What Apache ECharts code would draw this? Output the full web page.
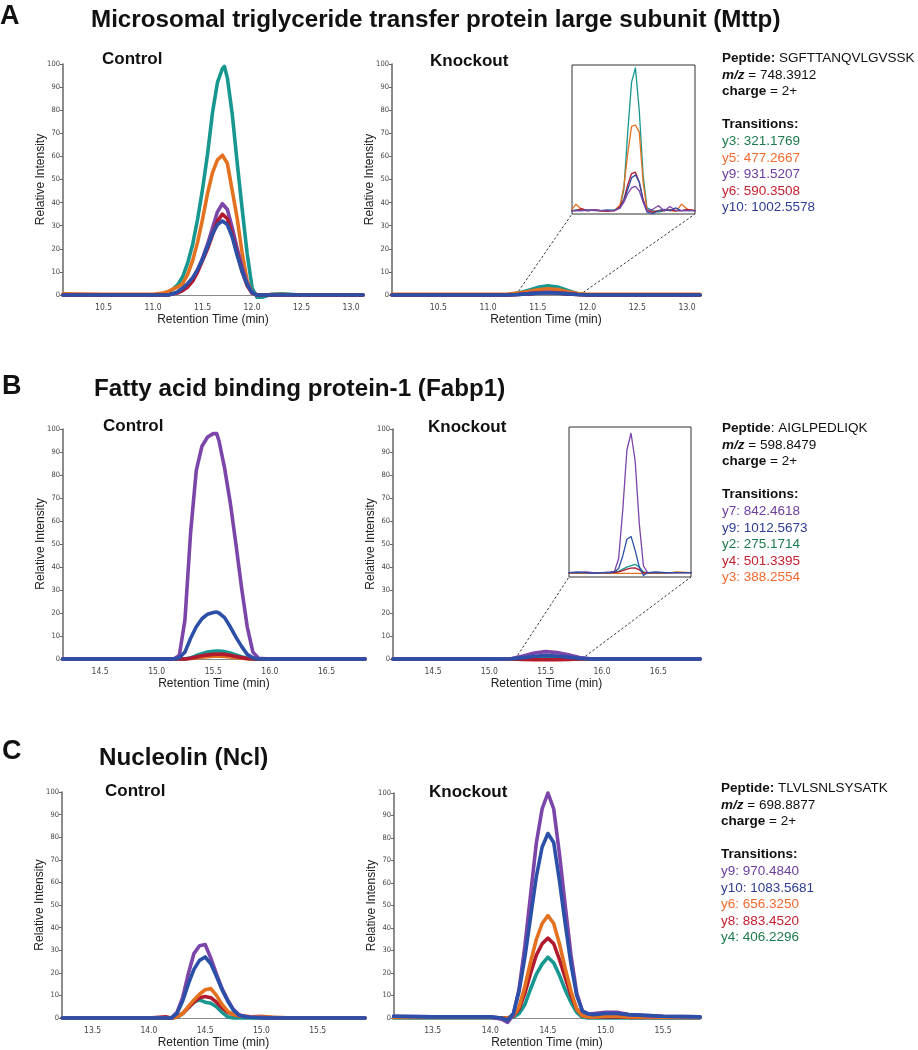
<!DOCTYPE html>
<html><head><meta charset="utf-8">
<script src="https://cdn.jsdelivr.net/npm/echarts@6/dist/echarts.min.js"></script>
<style>html,body{margin:0;padding:0;background:#fff}#c{width:918px;height:1050px}</style>
</head><body><div id="c"></div>
<script>
// ---------- Panel A (Mttp) ----------
const tA_c = [10.09,10.5,11.0,11.1,11.15,11.2,11.25,11.3,11.35,11.4,11.45,11.5,11.55,11.6,11.65,11.7,11.72,11.75,11.8,11.85,11.9,11.95,12.0,12.05,12.1,12.2,12.3,12.5,13.12];
const A_c_y3  = [0,0,0,0.3,1,2.5,4.5,8,14,22,33,46,61,79,92,98,99,94,78,57,37,18,3,-1,-1,0.3,0.5,0,0];
const A_c_y5  = [0.5,0.3,0.3,0.8,1.5,2.5,3.5,5,9,15,23,33,44,53,58.5,60.5,60,57,45,33,18,6,1,0,0,0.2,0.2,0,0];
const A_c_y9  = [0,0,0,0,0,0.5,1,2,4,7,11,16,22,29,36,39.5,40,37,29,20,12,5,1,0,0,0,0,0,0];
const A_c_y6  = [0,0,0,0,0,0.5,1,2,3.5,6,10,15,20,26,32,35,35,33,26,18,10,4,0.8,0,0,0,0,0,0];
const A_c_y10 = [0,0,0,0,0,0.5,1.5,3,5,7.5,11,15.5,21,26.5,30.5,32,32,30.5,25,17,10,4.5,1,0,0,0,0,0,0];

const tA_k = [10.035,10.5,11.0,11.2,11.3,11.4,11.5,11.6,11.7,11.8,11.9,12.0,12.5,13.0,13.13];
const A_k_y3  = [0,0,0,0.2,0.8,2,3.3,4,3.5,2,0.6,0,0,0,0];
const A_k_y5  = [0.3,0.3,0.3,0.4,0.8,1.5,2.3,2.7,2.4,1.4,0.6,0.3,0.3,0.3,0.3];
const A_k_y9  = [0,0,0,0,0.2,0.6,1,1.2,1,0.6,0.2,0,0,0,0];
const A_k_y6  = [0,0,0,0,0.2,0.5,0.9,1.1,0.9,0.5,0.2,0,0,0,0];
const A_k_y10 = [0,0,0,0,0.2,0.5,0.8,1,0.8,0.5,0.2,0,0,0,0];

// inset (zoomed knockout, relative units)
const tA_i = [11.28,11.30,11.33,11.36,11.40,11.43,11.46,11.50,11.53,11.55,11.57,11.59,11.61,11.63,11.65,11.67,11.70,11.73,11.76,11.79,11.82,11.85,11.88,11.92];
const A_i_y3  = [0,0.5,1,0,0.5,0,0,0.5,2,15,55,90,100,70,25,2,0,-1,0,0.5,0,0,0.5,0];
const A_i_y5  = [1,4.5,1,0,0.5,-0.5,0,0,4,17,40,59,60,55,20,1,-1,0,0.5,0,-0.5,4.5,1,0];
const A_i_y9  = [0,0,0,0,0.5,0,0,0,2,6,12,16,17,14,6,0,1,3.5,0,3,0,0,0,0];
const A_i_y6  = [0,0,1.5,0,0.5,0,-0.5,0,3,8,18,26,27,20,8,0,-1,0,0,0.5,0,0,1,0];
const A_i_y10 = [0,0,0,0.5,0,0,0.5,0,2,7,15,23,25,20,7,-1,-2,0,1,0,2,0,0,0];

// ---------- Panel B (Fabp1) ----------
const tB_c = [14.17,14.5,15.0,15.1,15.15,15.2,15.25,15.3,15.35,15.4,15.45,15.5,15.53,15.55,15.6,15.65,15.7,15.75,15.8,15.85,15.9,16.0,16.3,16.6,16.84];
const B_c_y7 = [0,0,0,0,0,1.5,17,55,82,92.5,96.5,98,98,95,83,68,50,31,14,3,0.3,0,0,0,0];
const B_c_y9 = [0,0,0,0,0,0.5,3,9,14,17.5,19.5,20.2,20.4,20,18,14,9.5,5.5,2,0.5,0,0,0,0,0];
const B_c_y2 = [0,0,0,0,0,0,0,0.5,1.5,2.3,3,3.4,3.5,3.5,3.2,2.6,1.8,1,0.3,0,0,0,0,0,0];
const B_c_y4 = [0,0,0,0,0,0,0,0.3,0.9,1.4,1.8,2,2.1,2.1,2,1.6,1.1,0.6,0.2,0,0,0,0,0,0];
const B_c_y3 = [0,0,0,0,0,0,0,0.2,0.5,0.8,1,1.2,1.2,1.2,1.1,0.9,0.6,0.3,0.1,0,0,0,0,0,0];

const tB_k = [14.145,14.5,15.0,15.2,15.3,15.4,15.5,15.6,15.7,15.8,15.9,16.0,16.5,16.87];
const B_k_y7 = [0,0,0,0.2,1.3,2.6,3.2,2.8,1.8,0.6,0.1,0,0,0];
const B_k_y9 = [0,0,0,0.1,0.6,1.2,1.5,1.3,0.8,0.3,0,0,0,0];
const B_k_y2 = [0,0,0,0,0.1,0.2,0.3,0.2,0.1,0,0,0,0,0];
const B_k_y4 = [0,0,0,0,-0.2,-0.3,-0.3,-0.3,-0.2,0,0,0,0,0];
const B_k_y3 = [0,0,0,0,0,0,0,0,0,0,0,0,0,0];

const tB_i = [15.23,15.27,15.31,15.35,15.39,15.43,15.45,15.47,15.49,15.51,15.53,15.55,15.57,15.59,15.61,15.65,15.70,15.75,15.82];
const B_i_y7 = [0,0,0.5,0,0,0.5,1,10,45,88,100,80,35,5,0,0,0,0,0];
const B_i_y9 = [0,0.5,0,-0.5,0,0,0.5,3,12,24,26,16,4,-2,0,0.5,0,0,0];
const B_i_y2 = [0,0,0,0,0,0,0.5,1,2.5,4,5,6,4,0.5,0,0,0,0,0];
const B_i_y4 = [0,0,0,0,0,0,0,0.5,1.5,2.5,3.3,3.5,2,0,0,0,0,0,0];
const B_i_y3 = [-0.5,-0.5,-0.5,-0.5,-0.5,-0.5,-0.5,-0.5,-0.5,-0.5,-0.5,-0.5,-0.5,-0.5,-0.5,-0.5,-0.5,0.5,0];

// ---------- Panel C (Ncl) ----------
const tC_c = [13.23,13.5,14.0,14.15,14.2,14.25,14.3,14.35,14.4,14.45,14.5,14.55,14.6,14.65,14.7,14.75,14.8,14.85,14.9,15.0,15.1,15.3,15.6,15.92];
const C_c_y9  = [0,0,0,0,0,2.5,9,19.5,28.5,32,32.5,26.5,19.5,13,8,3.8,1.4,0.7,0.3,0.3,0,0,0,0];
const C_c_y10 = [0,0,0,0,0,2,7.5,15,21.5,25.5,27,24,18.5,12.5,7.5,3.5,1.3,0.6,0.3,0,0,0,0,0];
const C_c_y6  = [0,0,0,0,0,0.5,2,5,8,10.5,12.5,13,10,6,3,1.5,1,0.8,0.5,0.8,0.3,0,0,0];
const C_c_y8  = [0,0,0,0.5,0,0.5,2,4.5,7,9,9.5,9,7,4.5,2.5,1.5,1,0.8,0.5,0.4,0.2,0,0,0];
const C_c_y4  = [0,0,0,0,0,0.3,2,4.5,7,8,7,6.5,5,2.5,0.5,0,0,0,0,0,0,0,0,0];

const tC_k = [13.16,13.5,14.0,14.1,14.15,14.2,14.25,14.3,14.35,14.4,14.45,14.5,14.55,14.6,14.65,14.7,14.75,14.8,14.85,14.9,15.0,15.1,15.2,15.5,15.82];
const C_k_y9  = [0.8,0.5,0.5,-0.5,-2,1.5,13,32,55,78,93,100,93,73,50,28,11,3,1.8,2,2.5,2.5,1.5,0.8,0.5];
const C_k_y10 = [0.8,0.5,0.5,0,-1,2,12,27,45,63,76,82,78,61,42,24,10,3,1.8,1.5,2,2,1.5,0.8,0.5];
const C_k_y6  = [0.3,0.3,0.3,0,0,1,5,14,25,35,42,45.5,42,33,22,12,4,1,0.5,0.5,0.8,0.8,0.5,0.3,0.3];
const C_k_y8  = [0.3,0.5,0.3,0,0,0.8,4,11,20,28,33,35.5,33,26,18,10,4,1,0.5,0.5,0.5,0.5,0.3,0.3,0.3];
const C_k_y4  = [0,0,0,0,0,0.3,2,6,13,19.5,24,27,24.5,19,12.5,7,2.5,0.3,0,0,0,0,0,0,0];

// ---------- tick labels ----------
const ticksA = [10.5,11.0,11.5,12.0,12.5,13.0];
const ticksB = [14.5,15.0,15.5,16.0,16.5];
const ticksC = [13.5,14.0,14.5,15.0,15.5];

// ---------- styles ----------
const COL = {teal:'#17978f', orange:'#e3711f', purple:'#7b45a9', red:'#b1192e', blue:'#2c4fa7'};
const TXT = {green:'#1d7a4c', orange:'#f26a2f', purple:'#6c3c9e', red:'#c4202f', blue:'#2e3d96'};
const FONT = 'Liberation Sans, Arial, Helvetica, sans-serif';
const NARROW = 'Liberation Sans Narrow, DejaVu Sans Condensed, Arial Narrow, sans-serif';

const grids = [
  {left:63,  top:64,  width:300, height:231},
  {left:392, top:64,  width:308, height:231},
  {left:63,  top:429, width:302, height:230},
  {left:393, top:429, width:307, height:230},
  {left:62,  top:792, width:303, height:230},
  {left:394, top:793, width:306, height:228},
  {left:572, top:65,  width:123, height:149, show:true, borderColor:'#333', borderWidth:1, backgroundColor:'#fff', z:5},
  {left:569, top:427, width:122, height:150, show:true, borderColor:'#333', borderWidth:1, backgroundColor:'#fff', z:5}
];
const xr = [[10.09,13.12,ticksA],[10.035,13.13,ticksA],[14.173,16.84,ticksB],[14.145,16.87,ticksB],[13.228,15.92,ticksC],[13.164,15.82,ticksC]];

const xAxes = xr.map((r,i)=>({
  gridIndex:i, type:'value', min:r[0], max:r[1],
  axisLine:{show:true, lineStyle:{color:'#8a8a8a', width:1.2}},
  axisTick:{show:false}, splitLine:{show:false},
  axisLabel:{customValues:r[2], formatter:v=>v.toFixed(1), fontSize:8.5, color:'#444', margin:8, fontFamily:NARROW},
  name:'Retention Time (min)', nameLocation:'middle', nameGap:19,
  nameTextStyle:{fontSize:12, color:'#222', fontFamily:FONT}
}));
xAxes.push({gridIndex:6, type:'value', min:11.28, max:11.92, show:false});
xAxes.push({gridIndex:7, type:'value', min:15.23, max:15.82, show:false});

const yAxes = xr.map((r,i)=>({
  gridIndex:i, type:'value', min:0, max:100, interval:10,
  axisLine:{show:true, lineStyle:{color:'#666', width:1.5}},
  axisTick:{show:true, length:3, lineStyle:{color:'#666'}},
  splitLine:{show:false},
  axisLabel:{fontSize:7.5, color:'#444', margin:3, fontFamily:NARROW},
  name:'Relative Intensity', nameLocation:'middle', nameGap:16, nameMoveOverlap:false,
  nameTextStyle:{fontSize:12, color:'#222', fontFamily:FONT}
}));
yAxes.push({gridIndex:6, type:'value', min:-2.3, max:102, show:false});
yAxes.push({gridIndex:7, type:'value', min:-3.1, max:104.5, show:false});

function mk(t, v, color, gi, width, z){
  return {type:'line', xAxisIndex:gi, yAxisIndex:gi, data:t.map((x,i)=>[x,v[i]]),
    symbol:'none', showSymbol:false, clip:false, silent:true, z:z||2,
    lineStyle:{color:color, width:width, join:'round', cap:'round'}, itemStyle:{color:color}};
}
const W = 3.6, WI = 1.3;
const series = [
  // A
  mk(tA_c,A_c_y3,COL.teal,0,W), mk(tA_c,A_c_y5,COL.orange,0,W), mk(tA_c,A_c_y9,COL.purple,0,W), mk(tA_c,A_c_y6,COL.red,0,W), mk(tA_c,A_c_y10,COL.blue,0,W),
  mk(tA_k,A_k_y3,COL.teal,1,W), mk(tA_k,A_k_y5,COL.orange,1,W), mk(tA_k,A_k_y9,COL.purple,1,W), mk(tA_k,A_k_y6,COL.red,1,W), mk(tA_k,A_k_y10,COL.blue,1,W),
  mk(tA_i,A_i_y3,COL.teal,6,WI,6), mk(tA_i,A_i_y5,COL.orange,6,WI,6), mk(tA_i,A_i_y6,COL.red,6,WI,6), mk(tA_i,A_i_y10,COL.blue,6,WI,6), mk(tA_i,A_i_y9,COL.purple,6,WI,6),
  // B
  mk(tB_c,B_c_y3,COL.orange,2,W), mk(tB_c,B_c_y2,COL.teal,2,W), mk(tB_c,B_c_y4,COL.red,2,W), mk(tB_c,B_c_y7,COL.purple,2,W), mk(tB_c,B_c_y9,COL.blue,2,W),
  mk(tB_k,B_k_y3,COL.orange,3,W), mk(tB_k,B_k_y2,COL.teal,3,W), mk(tB_k,B_k_y4,COL.red,3,W), mk(tB_k,B_k_y7,COL.purple,3,W), mk(tB_k,B_k_y9,COL.blue,3,W),
  mk(tB_i,B_i_y3,COL.orange,7,WI,6), mk(tB_i,B_i_y2,COL.teal,7,WI,6), mk(tB_i,B_i_y4,COL.red,7,WI,6), mk(tB_i,B_i_y7,COL.purple,7,WI,6), mk(tB_i,B_i_y9,COL.blue,7,WI,6),
  // C
  mk(tC_c,C_c_y4,COL.teal,4,W), mk(tC_c,C_c_y8,COL.red,4,W), mk(tC_c,C_c_y6,COL.orange,4,W), mk(tC_c,C_c_y9,COL.purple,4,W), mk(tC_c,C_c_y10,COL.blue,4,W),
  mk(tC_k,C_k_y4,COL.teal,5,W), mk(tC_k,C_k_y8,COL.red,5,W), mk(tC_k,C_k_y6,COL.orange,5,W), mk(tC_k,C_k_y9,COL.purple,5,W), mk(tC_k,C_k_y10,COL.blue,5,W)
];

function txt(x,y,text,size,weight){
  return {type:'text', x:x, y:y, z:10, silent:true,
    style:{text:text, fill:'#111', font:(weight||'bold')+' '+size+'px '+FONT, align:'left', verticalAlign:'middle'}};
}
const LH = 16.6, FS = 13.5;
const rich = {
  b:{fontWeight:'bold', fontSize:FS, fontFamily:FONT, lineHeight:LH, fill:'#111', color:'#111'},
  bi:{fontWeight:'bold', fontStyle:'italic', fontSize:FS, fontFamily:FONT, lineHeight:LH, fill:'#111', color:'#111'},
  n:{fontSize:FS, fontFamily:FONT, lineHeight:LH, fill:'#111', color:'#111'},
  g:{fontSize:FS, fontFamily:FONT, lineHeight:LH, fill:TXT.green, color:TXT.green},
  o:{fontSize:FS, fontFamily:FONT, lineHeight:LH, fill:TXT.orange, color:TXT.orange},
  p:{fontSize:FS, fontFamily:FONT, lineHeight:LH, fill:TXT.purple, color:TXT.purple},
  r:{fontSize:FS, fontFamily:FONT, lineHeight:LH, fill:TXT.red, color:TXT.red},
  u:{fontSize:FS, fontFamily:FONT, lineHeight:LH, fill:TXT.blue, color:TXT.blue}
};
function info(x,y,text){
  return {type:'text', x:x, y:y, z:10, silent:true,
    style:{text:text, rich:rich, font:FS+'px '+FONT, fill:'#111', lineHeight:LH, align:'left', verticalAlign:'top'}};
}

const graphicBase = [
  txt(0,17,'A',27), txt(91,20,'Microsomal triglyceride transfer protein large subunit (Mttp)',24.2),
  txt(2,387,'B',27), txt(94,389,'Fatty acid binding protein-1 (Fabp1)',24.2),
  txt(2,752,'C',27), txt(99,758,'Nucleolin (Ncl)',24.2),
  txt(102,59,'Control',17), txt(430,61,'Knockout',17),
  txt(103,426,'Control',17), txt(428,427,'Knockout',17),
  txt(105,791,'Control',17), txt(429,792,'Knockout',17),
  info(722,50,'{b|Peptide:}{n| SGFTTANQVLGVSSK}\n{bi|m/z}{n| = 748.3912}\n{b|charge}{n| = 2+}\n{n| }\n{b|Transitions:}\n{g|y3: 321.1769}\n{o|y5: 477.2667}\n{p|y9: 931.5207}\n{r|y6: 590.3508}\n{u|y10: 1002.5578}'),
  info(722,420,'{b|Peptide}{n|: AIGLPEDLIQK}\n{bi|m/z}{n| = 598.8479}\n{b|charge}{n| = 2+}\n{n| }\n{b|Transitions:}\n{p|y7: 842.4618}\n{u|y9: 1012.5673}\n{g|y2: 275.1714}\n{r|y4: 501.3395}\n{o|y3: 388.2554}'),
  info(721,780,'{b|Peptide:}{n| TLVLSNLSYSATK}\n{bi|m/z}{n| = 698.8877}\n{b|charge}{n| = 2+}\n{n| }\n{b|Transitions:}\n{p|y9: 970.4840}\n{u|y10: 1083.5681}\n{o|y6: 656.3250}\n{r|y8: 883.4520}\n{g|y4: 406.2296}')
];

const chart = echarts.init(document.getElementById('c'), null, {renderer:'canvas'});
chart.setOption({animation:false, backgroundColor:'#fff', grid:grids, xAxis:xAxes, yAxis:yAxes, series:series, graphic:graphicBase});

function conn(gMain, gInset, xv, yInsetMin){
  const p1 = chart.convertToPixel({xAxisIndex:gMain, yAxisIndex:gMain}, [xv,0]);
  const p2 = chart.convertToPixel({xAxisIndex:gInset, yAxisIndex:gInset}, [xv,yInsetMin]);
  return {type:'line', z:1, silent:true, shape:{x1:p1[0],y1:p1[1],x2:p2[0],y2:p2[1]},
    style:{stroke:'#222', lineWidth:0.9, lineDash:[2.5,2]}};
}
const connectors = [
  conn(1,6,11.28,-2.3), conn(1,6,11.92,-2.3),
  conn(3,7,15.23,-3.1), conn(3,7,15.82,-3.1)
];
chart.setOption({graphic: graphicBase.concat(connectors)});
</script></body></html>
